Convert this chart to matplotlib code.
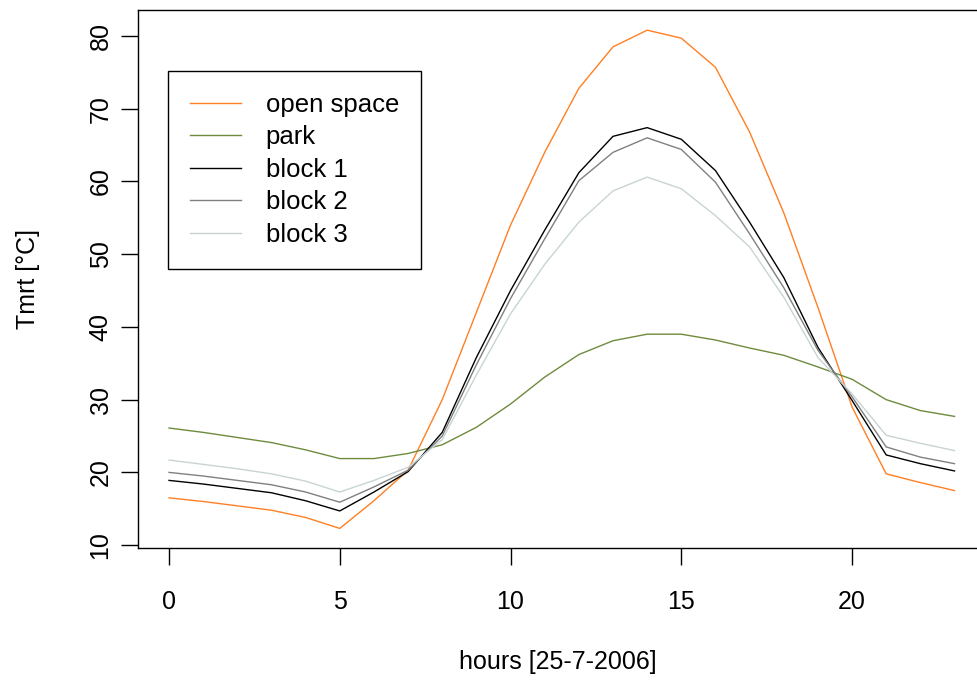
import numpy as np
import matplotlib
matplotlib.use("Agg")
import matplotlib.pyplot as plt

plt.rcParams['font.family'] = ['Liberation Sans', 'DejaVu Sans']

# hourly mean radiant temperature, 25-7-2006
hours = list(range(24))
open_space = [16.5, 16.0, 15.4, 14.8, 13.8, 12.3, 16.1, 20.3, 30.0, 42.0, 54.0, 64.0,
              72.8, 78.5, 80.8, 79.7, 75.7, 66.8, 55.7, 42.7, 29.0, 19.8, 18.6, 17.5]
park = [26.1, 25.5, 24.8, 24.1, 23.1, 21.9, 21.9, 22.6, 23.8, 26.2, 29.4, 33.1,
        36.2, 38.1, 39.0, 39.0, 38.2, 37.1, 36.1, 34.5, 32.8, 30.0, 28.5, 27.7]
block1 = [18.9, 18.4, 17.8, 17.2, 16.1, 14.7, 17.3, 20.1, 25.5, 35.8, 45.0, 53.3,
          61.2, 66.2, 67.4, 65.8, 61.5, 54.4, 46.8, 37.2, 29.9, 22.4, 21.2, 20.2]
block2 = [20.0, 19.5, 18.9, 18.3, 17.3, 15.9, 18.0, 20.3, 25.0, 34.8, 43.9, 52.1,
          60.1, 64.0, 66.0, 64.4, 59.9, 52.8, 45.4, 36.8, 30.4, 23.5, 22.1, 21.2]
block3 = [21.7, 21.1, 20.5, 19.8, 18.8, 17.3, 18.9, 20.7, 24.5, 33.4, 41.8, 48.6,
          54.4, 58.7, 60.6, 59.0, 55.3, 51.0, 44.1, 35.8, 30.8, 25.1, 24.0, 23.0]

series = [("open space", open_space, "#FF7F24"),
          ("park", park, "#6E8B3D"),
          ("block 1", block1, "#000000"),
          ("block 2", block2, "#808080"),
          ("block 3", block3, "#C8D4D4")]

fig = plt.figure(figsize=(9.78, 6.82), dpi=100)
# plot region runs a bit past the right edge of the image, as in the original
ax = fig.add_axes([0.1407, 0.196, 0.8674, 0.789])

for name, vals, col in series:
    ax.plot(hours, vals, color=col, lw=1.0, label=name)

# R-style 4% padding of the data range
allv = np.concatenate([np.array(v) for _, v, _ in series])
ymin, ymax = allv.min(), allv.max()
pad = 0.04 * (ymax - ymin)
ax.set_ylim(ymin - pad, ymax + pad)
ax.set_xlim(-0.04 * 23, 23 * 1.04)

ax.set_xticks([0, 5, 10, 15, 20])
ax.set_yticks(range(10, 81, 10))
ax.tick_params(axis='both', labelsize=18, length=12, width=1.0, color='black')
ax.tick_params(axis='x', pad=18)
ax.tick_params(axis='y', pad=6)
for lab in ax.get_yticklabels():
    lab.set_rotation(90)
    lab.set_va('center')
for sp in ax.spines.values():
    sp.set_linewidth(1.0)

fig.text(0.029, 0.196 + 0.789 * 0.5, "Tmrt [°C]", rotation=90, fontsize=18,
         ha='center', va='center')
fig.text(0.1407 + 0.8674 * 0.5 - 0.004, 1 - 662 / 682, "hours [25-7-2006]", fontsize=18,
         ha='center', va='center')

leg = ax.legend(loc='upper left', bbox_to_anchor=(0.036, 0.887), fontsize=18.5,
                frameon=True, fancybox=False, edgecolor='black', framealpha=1,
                borderaxespad=0, borderpad=0.85, handlelength=2.0,
                handletextpad=0.95, labelspacing=0.33)
leg.get_frame().set_linewidth(1.0)

fig.savefig("out.png", dpi=100)
